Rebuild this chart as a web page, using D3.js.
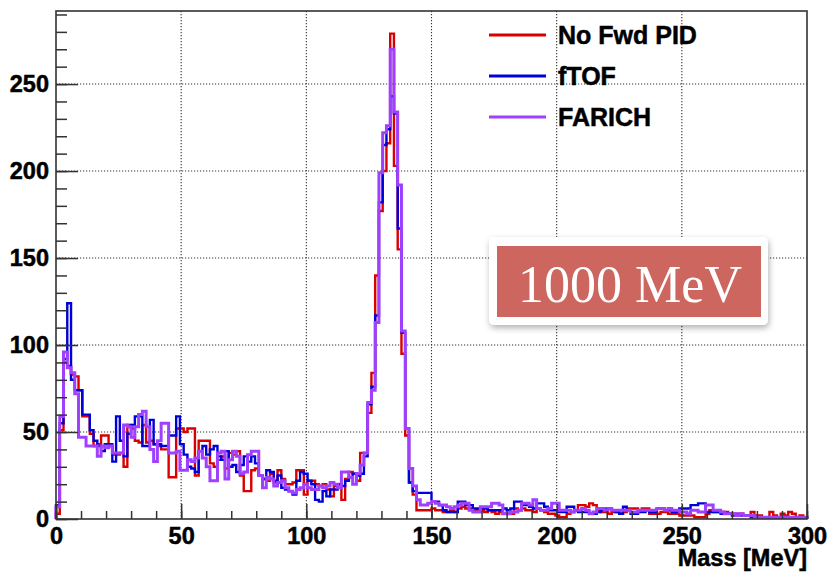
<!DOCTYPE html>
<html>
<head>
<meta charset="utf-8">
<script src="https://cdn.jsdelivr.net/npm/d3@7"></script>
<style>
  body { margin: 0; background: #fff; }
  svg { display: block; }
  text { font-family: "Liberation Sans", Arial, Helvetica, sans-serif; font-weight: bold; fill: #000; }
  .heavy { stroke: #000; stroke-width: 0.5px; }
</style>
</head>
<body>
<svg id="chart" width="829" height="573"></svg>
<script>
// Histogram definition: 200 bins of 1.5 MeV from 0 to 300 MeV
const massMin = 0;
const massMax = 300;
const nBins = 200;

// Bin contents (counts per bin)
const noFwdPid = [
  3, 51, 90, 88, 83, 82, 74, 59, 59, 49,
  42, 43, 48, 48, 42, 37, 37, 38, 30, 54,
  52, 45, 44, 54, 44, 45, 43, 42, 40, 40,
  24, 24, 52, 52, 50, 52, 52, 25, 45, 45,
  45, 32, 30, 34, 36, 29, 38, 37, 39, 25,
  16, 16, 28, 29, 25, 23, 22, 26, 21, 28,
  23, 20, 20, 21, 28, 28, 14, 22, 22, 20,
  19, 20, 17, 13, 19, 20, 11, 23, 27, 26,
  22, 38, 38, 61, 84, 140, 177, 200, 216, 279,
  203, 155, 95, 48, 21, 14, 5, 5, 5, 5,
  6, 5, 5, 4, 4, 5, 4, 6, 7, 6,
  6, 5, 5, 5, 4, 5, 4, 3, 4, 3,
  3, 3, 6, 5, 6, 5, 5, 4, 6, 5,
  4, 3, 3, 2, 1, 1, 3, 4, 5, 8,
  8, 7, 9, 8, 5, 4, 4, 3, 4, 4,
  3, 4, 6, 6, 6, 5, 6, 6, 3, 3,
  3, 4, 4, 3, 3, 3, 2, 2, 2, 2,
  1, 1, 1, 3, 5, 4, 4, 4, 4, 3,
  3, 3, 3, 2, 2, 4, 2, 2, 1, 1,
  4, 2, 1, 3, 2, 4, 3, 1, 2, 1
];

const fTof = [
  8, 55, 92, 124, 80, 74, 74, 60, 60, 51,
  45, 42, 39, 43, 43, 33, 59, 45, 36, 49,
  54, 59, 59, 42, 42, 57, 43, 43, 42, 42,
  48, 48, 59, 43, 37, 30, 29, 27, 39, 42,
  37, 40, 42, 36, 34, 39, 30, 31, 27, 31,
  36, 33, 36, 32, 25, 23, 28, 27, 22, 25,
  18, 17, 16, 14, 22, 27, 26, 22, 20, 11,
  10, 16, 13, 17, 17, 20, 19, 22, 24, 26,
  25, 26, 36, 66, 76, 117, 182, 215, 224, 243,
  233, 167, 107, 52, 21, 16, 15, 15, 15, 15,
  10, 10, 8, 5, 4, 4, 4, 10, 10, 8,
  8, 6, 6, 6, 6, 5, 5, 5, 5, 6,
  5, 6, 10, 10, 8, 8, 7, 6, 9, 9,
  7, 5, 5, 5, 4, 4, 7, 7, 5, 4,
  4, 4, 3, 3, 4, 5, 6, 6, 5, 4,
  3, 7, 5, 3, 3, 4, 4, 5, 4, 4,
  6, 6, 5, 5, 4, 4, 6, 6, 6, 8,
  8, 9, 9, 4, 4, 4, 4, 3, 3, 3,
  2, 2, 2, 2, 2, 1, 1, 1, 1, 1,
  1, 1, 1, 1, 1, 1, 1, 1, 1, 1
];

const farich = [
  7, 59, 96, 87, 84, 72, 47, 47, 42, 42,
  42, 36, 42, 41, 42, 38, 38, 38, 54, 53,
  47, 53, 60, 62, 53, 40, 33, 45, 55, 55,
  38, 38, 39, 28, 28, 34, 33, 35, 39, 35,
  30, 22, 22, 38, 39, 23, 34, 39, 36, 26,
  27, 37, 39, 39, 25, 18, 24, 23, 19, 21,
  22, 18, 16, 15, 17, 18, 20, 18, 17, 17,
  19, 18, 19, 21, 20, 18, 27, 27, 24, 20,
  26, 31, 38, 67, 74, 113, 199, 222, 226, 270,
  234, 192, 108, 52, 29, 19, 11, 8, 8, 9,
  10, 9, 8, 8, 7, 6, 7, 8, 9, 9,
  5, 4, 4, 7, 7, 7, 9, 9, 8, 3,
  3, 4, 4, 5, 9, 9, 8, 11, 6, 5,
  5, 6, 9, 9, 5, 5, 5, 4, 5, 5,
  6, 5, 3, 4, 6, 6, 5, 6, 5, 5,
  5, 5, 5, 4, 4, 5, 5, 5, 5, 5,
  6, 6, 5, 6, 5, 5, 4, 4, 3, 5,
  5, 4, 4, 8, 8, 5, 5, 4, 3, 3,
  3, 2, 3, 2, 2, 2, 1, 1, 1, 1,
  1, 1, 1, 1, 1, 1, 1, 1, 1, 1
];

const seriesNames = ["No Fwd PID", "fTOF", "FARICH"];
const seriesColors = ["#d80000", "#0000d8", "#a040ff"];
const seriesWidths = [2.4, 2.4, 3];

const xMajorTicks = [0, 50, 100, 150, 200, 250, 300];
const xMinorTicks = d3.range(0, 301, 10);
const yMajorTicks = [0, 50, 100, 150, 200, 250];
const yMinorTicks = d3.range(0, 291, 10);
const yMax = 292;

const xTitle = "Mass [MeV]";
const boxLabel = "1000 MeV";

// Frame of the pad
const margin = { top: 11, right: 22, bottom: 54, left: 56 };
const width = 829 - margin.left - margin.right;
const height = 573 - margin.top - margin.bottom;

const svg = d3.select("#chart");
const g = svg.append("g").attr("transform", `translate(${margin.left},${margin.top})`);

const x = d3.scaleLinear().domain([massMin, massMax]).range([0, width]);
const y = d3.scaleLinear().domain([0, yMax]).range([height, 0]);

const binWidth = (massMax - massMin) / nBins;

// Dotted grid
g.append("g")
  .selectAll("line")
  .data(xMajorTicks.filter((d) => d > massMin && d < massMax))
  .enter()
  .append("line")
  .attr("x1", (d) => x(d))
  .attr("x2", (d) => x(d))
  .attr("y1", 0)
  .attr("y2", height)
  .attr("stroke", "#333")
  .attr("stroke-width", 1.1)
  .attr("stroke-dasharray", "1.2,1.8");

g.append("g")
  .selectAll("line")
  .data(yMajorTicks.filter((d) => d > 0))
  .enter()
  .append("line")
  .attr("x1", 0)
  .attr("x2", width)
  .attr("y1", (d) => y(d))
  .attr("y2", (d) => y(d))
  .attr("stroke", "#333")
  .attr("stroke-width", 1.1)
  .attr("stroke-dasharray", "1.2,1.8");

// Step outline like ROOT's default histogram drawing
function histPoints(values) {
  const pts = [[x(massMin), y(0)]];
  values.forEach((v, i) => {
    const lo = massMin + i * binWidth;
    pts.push([x(lo), y(v)]);
    pts.push([x(lo + binWidth), y(v)]);
  });
  pts.push([x(massMax), y(0)]);
  return pts;
}

const line = d3.line();
const allSeries = [noFwdPid, fTof, farich];

g.append("g")
  .selectAll("path")
  .data(allSeries)
  .enter()
  .append("path")
  .attr("d", (d) => line(histPoints(d)))
  .attr("fill", "none")
  .attr("stroke", (d, i) => seriesColors[i])
  .attr("stroke-width", (d, i) => seriesWidths[i])
  .attr("stroke-linejoin", "miter");

// Frame
g.append("rect")
  .attr("x", 0)
  .attr("y", 0)
  .attr("width", width)
  .attr("height", height)
  .attr("fill", "none")
  .attr("stroke", "#333")
  .attr("stroke-width", 1.6);

// Y axis: minor ticks then major ticks with labels
g.append("g")
  .call(d3.axisLeft(y).tickValues(yMinorTicks).tickSize(-11).tickFormat(""))
  .call((a) => a.select(".domain").remove())
  .call((a) => a.selectAll("line").attr("stroke", "#333").attr("stroke-width", 1.5));

g.append("g")
  .call(d3.axisLeft(y).tickValues(yMajorTicks).tickSizeInner(-22).tickSizeOuter(0).tickPadding(7))
  .call((a) => a.select(".domain").remove())
  .call((a) => a.selectAll("line").attr("stroke", "#333").attr("stroke-width", 1.5))
  .call((a) =>
    a.selectAll("text")
      .attr("class", "heavy")
      .attr("font-family", "Liberation Sans, Arial, sans-serif")
      .attr("font-weight", "bold")
      .attr("font-size", 23.5)
      .attr("fill", "#000")
  );

// X axis
g.append("g")
  .attr("transform", `translate(0,${height})`)
  .call(d3.axisBottom(x).tickValues(xMinorTicks).tickSize(-8).tickFormat(""))
  .call((a) => a.select(".domain").remove())
  .call((a) => a.selectAll("line").attr("stroke", "#333").attr("stroke-width", 1.5));

g.append("g")
  .attr("transform", `translate(0,${height})`)
  .call(d3.axisBottom(x).tickValues(xMajorTicks).tickSizeInner(-15).tickSizeOuter(0).tickPadding(8))
  .call((a) => a.select(".domain").remove())
  .call((a) => a.selectAll("line").attr("stroke", "#333").attr("stroke-width", 1.5))
  .call((a) =>
    a.selectAll("text")
      .attr("class", "heavy")
      .attr("font-family", "Liberation Sans, Arial, sans-serif")
      .attr("font-weight", "bold")
      .attr("font-size", 23.5)
      .attr("fill", "#000")
  );

// Axis title
g.append("text")
  .attr("class", "heavy")
  .attr("x", width)
  .attr("y", height + 47)
  .attr("text-anchor", "end")
  .attr("font-size", 23.5)
  .text(xTitle);

// Legend
const legend = svg.append("g").attr("transform", "translate(489,35)");
const legendRows = legend
  .selectAll("g")
  .data(seriesNames)
  .enter()
  .append("g")
  .attr("transform", (d, i) => `translate(0,${i * 41})`);

legendRows
  .append("line")
  .attr("x1", 0)
  .attr("x2", 57)
  .attr("y1", 0)
  .attr("y2", 0)
  .attr("stroke", (d, i) => seriesColors[i])
  .attr("stroke-width", 3);

legendRows
  .append("text")
  .attr("class", "heavy")
  .attr("x", 69)
  .attr("y", 9)
  .attr("font-size", 25)
  .text((d) => d);

// "1000 MeV" label card
const defs = svg.append("defs");
const shadow = defs.append("filter").attr("id", "shadow").attr("x", "-10%").attr("y", "-10%").attr("width", "130%").attr("height", "140%");
shadow.append("feDropShadow")
  .attr("dx", 1)
  .attr("dy", 3)
  .attr("stdDeviation", 3)
  .attr("flood-color", "#000")
  .attr("flood-opacity", 0.3);

const card = svg.append("g");
card.append("rect")
  .attr("x", 489)
  .attr("y", 237)
  .attr("width", 279)
  .attr("height", 88)
  .attr("rx", 5)
  .attr("fill", "#fff")
  .attr("filter", "url(#shadow)");

card.append("rect")
  .attr("x", 497)
  .attr("y", 246)
  .attr("width", 264)
  .attr("height", 71)
  .attr("fill", "#cd665f");

card.append("text")
  .attr("x", 630)
  .attr("y", 302)
  .attr("text-anchor", "middle")
  .style("font-family", "'Liberation Serif', 'DejaVu Serif', serif")
  .style("font-weight", "normal")
  .style("font-size", "52px")
  .style("fill", "#fff")
  .text(boxLabel);
</script>
</body>
</html>
